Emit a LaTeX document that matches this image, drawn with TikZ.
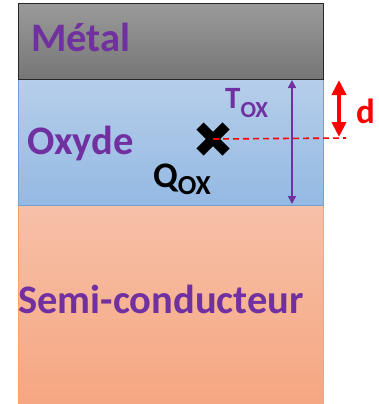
\documentclass[tikz,border=0pt]{standalone}
\usepackage{fontspec}
\setmainfont{Carlito}
\usetikzlibrary{positioning,arrows.meta,calc}
\definecolor{MosPurple}{RGB}{112,48,160}
\definecolor{MosRed}{RGB}{255,0,0}
\definecolor{MetalTop}{RGB}{154,154,154}
\definecolor{MetalBot}{RGB}{118,118,118}
\definecolor{OxTop}{RGB}{182,206,234}
\definecolor{OxBot}{RGB}{148,185,227}
\definecolor{OxLine}{RGB}{112,160,214}
\definecolor{SemiTop}{RGB}{247,192,168}
\definecolor{SemiBot}{RGB}{245,166,128}
\definecolor{SemiLine}{RGB}{244,164,108}
\tikzset{
  layer box/.style={
    anchor=north west,
    line width=0.8pt,
    inner sep=0pt,
    minimum width=305pt
  },
  layer metal/.style={layer box, draw=black!85, top color=MetalTop, bottom color=MetalBot, minimum height=76pt},
  layer oxide/.style={layer box, draw=OxLine, top color=OxTop, bottom color=OxBot, minimum height=126pt},
  layer semi/.style={layer box, draw=SemiLine, top color=SemiTop, bottom color=SemiBot, minimum height=202pt},
  layer label/.style={anchor=base west, inner sep=0pt, text=MosPurple, font=\fontsize{40.5}{46}\selectfont\bfseries},
  tox arrow/.style={{Triangle[length=8pt,width=8pt]}-{Triangle[length=8pt,width=8pt]}, line width=1.6pt, MosPurple},
  d arrow/.style={{Triangle[length=15pt,width=14pt]}-{Triangle[length=15pt,width=14pt]}, line width=4pt, MosRed},
  d line/.style={dashed, dash pattern=on 6pt off 4pt, line width=1.6pt, MosRed},
  charge mark/.style={line width=10pt, black}
}

\begin{document}
\begin{tikzpicture}[x=1pt,y=-1pt]
\useasboundingbox (0,0) rectangle (379,404);
\node[layer semi] (semi) at (18,205) {};
\node[layer oxide] (oxide) at (18,79) {};
\node[layer metal] (metal) at (18,3) {};
\node[layer label] (metaltxt) at (31,52) {Métal};
\node[layer label] (oxidetxt) at (27,154) {Oxyde};
\node[layer label] (semitxt) at (18,313) {Semi-conducteur};
% charge piegee
\coordinate (q) at (213,139);
\draw[charge mark] ($(q)+(-13,-13)$) -- ($(q)+(13,13)$);
\draw[charge mark] ($(q)+(-13,13)$) -- ($(q)+(13,-13)$);
\node[anchor=base west, inner sep=0pt, font=\fontsize{36}{42}\selectfont\bfseries] (qox) at (153,187)
  {Q\raisebox{-7pt}{\fontsize{27.5}{32}\selectfont OX}};
% epaisseur
\coordinate (toxtop) at (292,80);
\coordinate (toxbot) at (292,204);
\draw[tox arrow] (toxtop) -- (toxbot);
\node[anchor=base west, inner sep=0pt, text=MosPurple, font=\fontsize{31}{36}\selectfont\bfseries] (tox) at (225,108)
  {T\raisebox{-9pt}{\fontsize{23}{26}\selectfont OX}};
% distance
\coordinate (dend) at (346,138);
\draw[d line] (q) -- (dend);
\coordinate (dtop) at (339,80);
\coordinate (dbot) at (339,137);
\draw[d arrow] (dtop) -- (dbot);
\node[anchor=base west, inner sep=0pt, text=MosRed, font=\fontsize{35}{40}\selectfont\bfseries] (dtxt) at (356,123) {d};
\end{tikzpicture}
\end{document}
